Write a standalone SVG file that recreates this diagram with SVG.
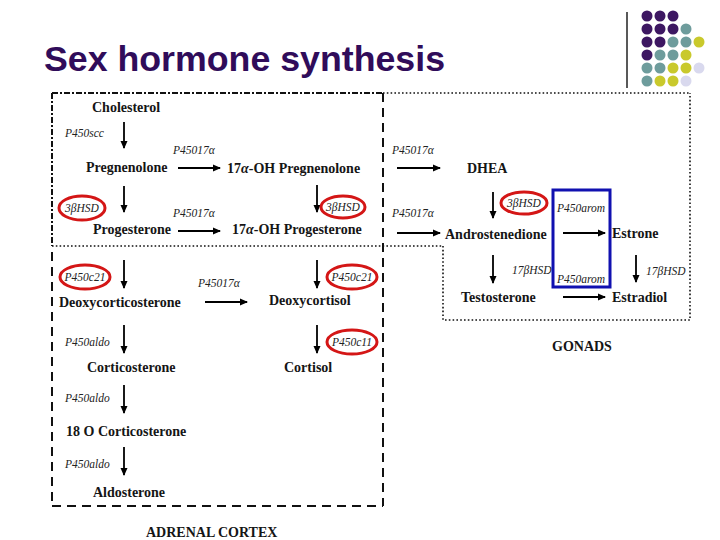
<svg xmlns="http://www.w3.org/2000/svg" width="720" height="540" viewBox="0 0 720 540">
<style>
.title{font-family:"Liberation Sans",Arial,sans-serif;font-weight:bold;font-size:35px;fill:#300c5a}
.n{font-family:"Liberation Serif","Times New Roman",serif;font-weight:bold;font-size:14px;fill:#151515}
.e{font-family:"Liberation Serif","Times New Roman",serif;font-style:italic;font-size:11.5px;fill:#222}
.ec{font-family:"Liberation Serif","Times New Roman",serif;font-style:italic;font-size:11.5px;fill:#222;text-anchor:middle}
.ring{fill:none;stroke:#d41616;stroke-width:3}
.arr{stroke:#000;stroke-width:1.8;fill:none;marker-end:url(#ah)}
.dash{stroke:#111;stroke-width:2;fill:none;stroke-dasharray:9,6}
.dashdot{stroke:#111;stroke-width:2;fill:none;stroke-dasharray:6,2,2,2}
.dot{stroke:#111;stroke-width:1.6;fill:none;stroke-dasharray:1.6,2.2}
.pu{fill:#3d1762}.te{fill:#6e9c9c}.ye{fill:#c9c92c}.la{fill:#d9d9ee}
</style>
<defs>
<marker id="ah" markerWidth="8" markerHeight="8" refX="7" refY="4" orient="auto" markerUnits="userSpaceOnUse">
<path d="M0,0.5 L8,4 L0,7.5 Z" fill="#000"/>
</marker>
</defs>
<rect width="720" height="540" fill="#fff"/>
<g id="decor">
<line x1="627" y1="12" x2="627" y2="88" stroke="#222" stroke-width="1.5"/>
<circle class="pu" cx="647" cy="16" r="5.5"/><circle class="pu" cx="660" cy="16" r="5.5"/><circle class="pu" cx="673" cy="16" r="5.5"/>
<circle class="pu" cx="647" cy="29" r="5.5"/><circle class="pu" cx="660" cy="29" r="5.5"/><circle class="pu" cx="673" cy="29" r="5.5"/><circle class="te" cx="686" cy="29" r="5.5"/>
<circle class="pu" cx="647" cy="42" r="5.5"/><circle class="pu" cx="660" cy="42" r="5.5"/><circle class="te" cx="673" cy="42" r="5.5"/><circle class="te" cx="686" cy="42" r="5.5"/><circle class="ye" cx="699" cy="42" r="5.5"/>
<circle class="pu" cx="647" cy="55" r="5.5"/><circle class="te" cx="660" cy="55" r="5.5"/><circle class="te" cx="673" cy="55" r="5.5"/><circle class="ye" cx="686" cy="55" r="5.5"/>
<circle class="te" cx="647" cy="68" r="5.5"/><circle class="te" cx="660" cy="68" r="5.5"/><circle class="ye" cx="673" cy="68" r="5.5"/><circle class="ye" cx="686" cy="68" r="5.5"/><circle class="la" cx="699" cy="68" r="5.5"/>
<circle class="te" cx="647" cy="81" r="5.5"/><circle class="ye" cx="660" cy="81" r="5.5"/><circle class="ye" cx="673" cy="81" r="5.5"/><circle class="la" cx="686" cy="81" r="5.5"/>
</g>
<text class="title" x="44" y="71" textLength="401" lengthAdjust="spacingAndGlyphs">Sex hormone synthesis</text>
<g id="boxes">
<line class="dashdot" x1="52" y1="93" x2="383" y2="93"/>
<line class="dot" x1="383" y1="93" x2="690" y2="93"/>
<line class="dashdot" x1="52" y1="93" x2="52" y2="246"/>
<line class="dash" x1="52" y1="252" x2="52" y2="506"/>
<line class="dot" x1="52" y1="246" x2="443" y2="246"/>
<line class="dash" x1="383" y1="93" x2="383" y2="506"/>
<line class="dash" x1="52" y1="506" x2="383" y2="506"/>
<polyline class="dot" points="443,246 443,320 690,320 690,93"/>
</g>
<g id="connectors">
<line class="arr" x1="124" y1="122" x2="124" y2="148"/>
<line class="arr" x1="178" y1="168" x2="220" y2="168"/>
<line class="arr" x1="124" y1="186" x2="124" y2="212"/>
<line class="arr" x1="317" y1="185" x2="317" y2="212"/>
<line class="arr" x1="178" y1="231" x2="220" y2="231"/>
<line class="arr" x1="397" y1="168" x2="440" y2="168"/>
<line class="arr" x1="397" y1="233" x2="440" y2="233"/>
<line class="arr" x1="493" y1="192" x2="493" y2="218"/>
<line class="arr" x1="563" y1="233" x2="605" y2="233"/>
<line class="arr" x1="493" y1="255" x2="493" y2="283"/>
<line class="arr" x1="636" y1="255" x2="636" y2="282"/>
<line class="arr" x1="563" y1="297" x2="605" y2="297"/>
<line class="arr" x1="124" y1="260" x2="124" y2="288"/>
<line class="arr" x1="317" y1="260" x2="317" y2="288"/>
<line class="arr" x1="205" y1="302" x2="247" y2="302"/>
<line class="arr" x1="124" y1="325" x2="124" y2="353"/>
<line class="arr" x1="317" y1="325" x2="317" y2="353"/>
<line class="arr" x1="124" y1="385" x2="124" y2="413"/>
<line class="arr" x1="124" y1="447" x2="124" y2="475"/>
</g>
<g id="n-cholesterol"><text class="n" x="92" y="112">Cholesterol</text></g>
<g id="n-pregnenolone"><text class="n" x="86" y="172">Pregnenolone</text></g>
<g id="n-17ohpreg"><text class="n" x="227" y="173">17<tspan font-style="italic">α</tspan>-OH Pregnenolone</text></g>
<g id="n-progesterone"><text class="n" x="93" y="234">Progesterone</text></g>
<g id="n-17ohprog"><text class="n" x="232" y="234">17<tspan font-style="italic">α</tspan>-OH Progesterone</text></g>
<g id="n-dhea"><text class="n" x="467" y="173">DHEA</text></g>
<g id="n-androstenedione"><text class="n" x="445" y="239">Androstenedione</text></g>
<g id="n-estrone"><text class="n" x="612" y="238">Estrone</text></g>
<g id="n-testosterone"><text class="n" x="461" y="302">Testosterone</text></g>
<g id="n-estradiol"><text class="n" x="612" y="302">Estradiol</text></g>
<g id="n-deoxycorticosterone"><text class="n" x="59" y="307">Deoxycorticosterone</text></g>
<g id="n-deoxycortisol"><text class="n" x="269" y="305">Deoxycortisol</text></g>
<g id="n-corticosterone"><text class="n" x="87" y="372">Corticosterone</text></g>
<g id="n-cortisol"><text class="n" x="284" y="372">Cortisol</text></g>
<g id="n-18ocorticosterone"><text class="n" x="66" y="436">18 O Corticosterone</text></g>
<g id="n-aldosterone"><text class="n" x="93" y="497">Aldosterone</text></g>
<g id="n-gonads"><text class="n" x="552" y="351">GONADS</text></g>
<g id="n-adrenal"><text class="n" x="146" y="537">ADRENAL CORTEX</text></g>
<g id="enzymes">
<text class="e" x="65" y="137">P450scc</text>
<text class="e" x="173" y="154">P45017α</text>
<text class="e" x="173" y="217">P45017α</text>
<text class="e" x="392" y="154">P45017α</text>
<text class="e" x="392" y="217">P45017α</text>
<text class="e" x="198" y="287">P45017α</text>
<text class="e" x="65" y="346">P450aldo</text>
<text class="e" x="65" y="402">P450aldo</text>
<text class="e" x="65" y="468">P450aldo</text>
<text class="e" x="512" y="274">17βHSD</text>
<text class="e" x="646" y="275">17βHSD</text>
</g>
<g id="red-rings">
<ellipse class="ring" cx="82" cy="208" rx="23" ry="12"/><text class="ec" x="82" y="212">3βHSD</text>
<ellipse class="ring" cx="343" cy="207" rx="22" ry="11"/><text class="ec" x="343" y="211">3βHSD</text>
<ellipse class="ring" cx="524" cy="203" rx="23" ry="11"/><text class="ec" x="524" y="207">3βHSD</text>
<ellipse class="ring" cx="85" cy="277" rx="25" ry="12"/><text class="ec" x="85" y="281">P450c21</text>
<ellipse class="ring" cx="352" cy="277" rx="25" ry="12"/><text class="ec" x="352" y="281">P450c21</text>
<ellipse class="ring" cx="352" cy="342" rx="25" ry="12"/><text class="ec" x="352" y="346">P450c11</text>
</g>
<g id="aromatase">
<rect x="553" y="190" width="57" height="97" fill="none" stroke="#1010b0" stroke-width="3"/>
<text class="e" x="557" y="212">P450arom</text>
<text class="e" x="557" y="283">P450arom</text>
</g>
</svg>
